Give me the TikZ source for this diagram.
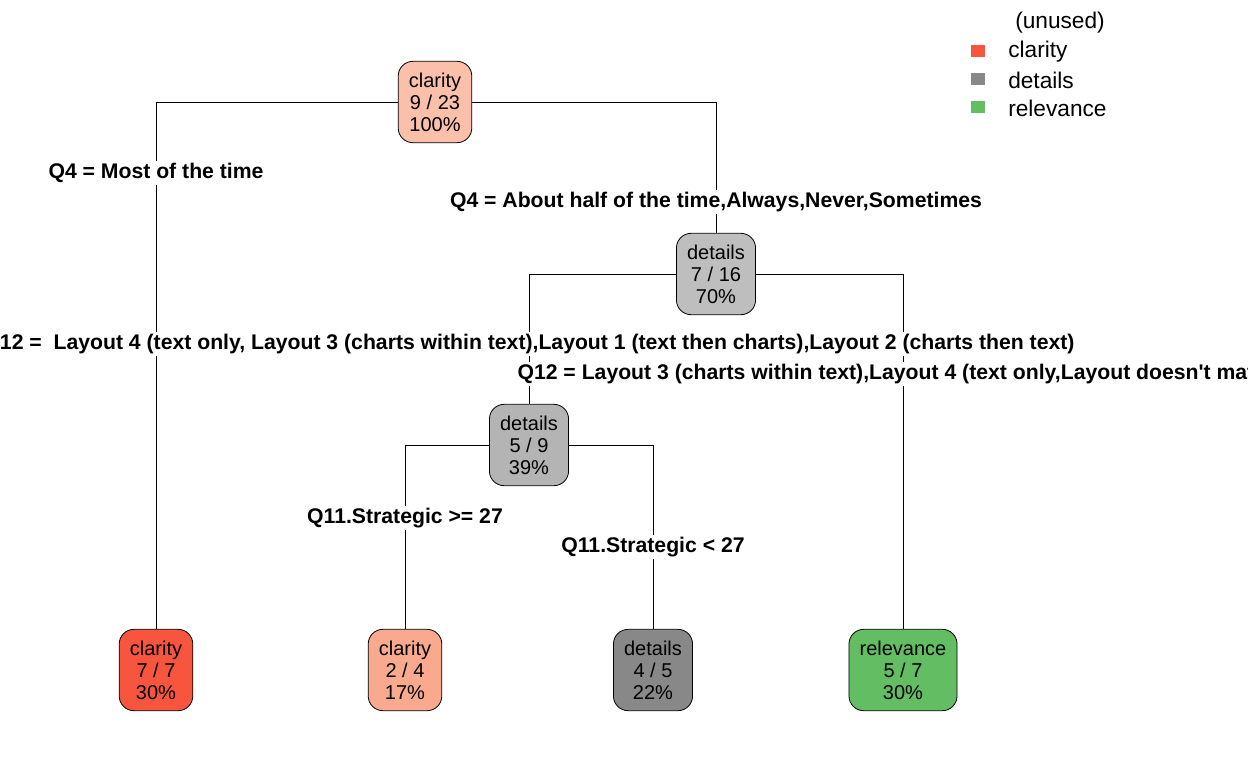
\documentclass[tikz,border=0pt]{standalone}
\usepackage{fontspec}
\setmainfont{Liberation Sans}
\definecolor{clarfull}{RGB}{248,85,62}
\definecolor{clarmid}{RGB}{249,170,142}
\definecolor{clarpale}{RGB}{251,192,170}
\definecolor{detlight}{RGB}{190,190,190}
\definecolor{detmid}{RGB}{180,180,180}
\definecolor{detdark}{RGB}{136,136,136}
\definecolor{relfull}{RGB}{99,189,99}
\tikzset{nodebox/.style={draw,line width=.6pt,rounded corners=11pt,align=center,inner xsep=8pt,minimum height=61pt,font=\fontsize{15}{16.5}\selectfont},
split/.style={fill=white,inner xsep=1pt,inner ysep=2pt,text height=11pt,text depth=3pt,font=\fontsize{15.9}{16}\selectfont\bfseries},
edge/.style={line width=.6pt},legsq/.style={fill=#1,minimum width=10.5pt,minimum height=9pt,inner sep=0pt},
legtxt/.style={anchor=west,inner sep=0pt,font=\fontsize{17}{18}\selectfont}}
\begin{document}
\begin{tikzpicture}[x=.75pt,y=-.75pt]
\useasboundingbox (0,0) rectangle (1248,771);\clip (0,0) rectangle (1248,771);
% tree nodes
\node[nodebox,fill=clarpale] (root) at (435,102){clarity\\9 / 23\\100\%};
\node[nodebox,fill=detlight] (det7) at (716,274){details\\7 / 16\\70\%};
\node[nodebox,fill=detmid] (det5) at (529,445){details\\5 / 9\\39\%};
\node[nodebox,fill=clarfull] (clar7) at (156,670){clarity\\7 / 7\\30\%};
\node[nodebox,fill=clarmid] (clar2) at (405,670){clarity\\2 / 4\\17\%};
\node[nodebox,fill=detdark] (det4) at (653,670){details\\4 / 5\\22\%};
\node[nodebox,fill=relfull] (relev) at (903,670){relevance\\5 / 7\\30\%};
% branches
\draw[edge] (root.west)-|(clar7.north);\draw[edge] (root.east)-|(det7.north);
\draw[edge] (det7.west)-|(det5.north);\draw[edge] (det7.east)-|(relev.north);
\draw[edge] (det5.west)-|(clar2.north);\draw[edge] (det5.east)-|(det4.north);
% split labels
\node[split] (q4a) at (156,173){Q4 = Most of the time};
\node[split] (q4b) at (716,202){Q4 = About half of the time,Always,Never,Sometimes};
\node[split] (q12a) at (529,344){Q12 = \ Layout 4 (text only, Layout 3 (charts within text),Layout 1 (text then charts),Layout 2 (charts then text)};
\node[split] (q12b) at (903,374){Q12 = Layout 3 (charts within text),Layout 4 (text only,Layout doesn\textquotesingle t matter)};
\node[split] (q11a) at (405,518){Q11.Strategic >= 27};
\node[split] (q11b) at (653,547){Q11.Strategic < 27};
% legend
\node[legtxt] (lgh) at (1015,23){(unused)};
\node[legsq=clarfull] (lsq1) at (978,51){};\node[legtxt] (lg1) at (1008,52){clarity};
\node[legsq=detdark] (lsq2) at (978,79){};\node[legtxt] (lg2) at (1008,80){details};
\node[legsq=relfull] (lsq3) at (978,107){};\node[legtxt] (lg3) at (1008,108){relevance};
\end{tikzpicture}
\end{document}
